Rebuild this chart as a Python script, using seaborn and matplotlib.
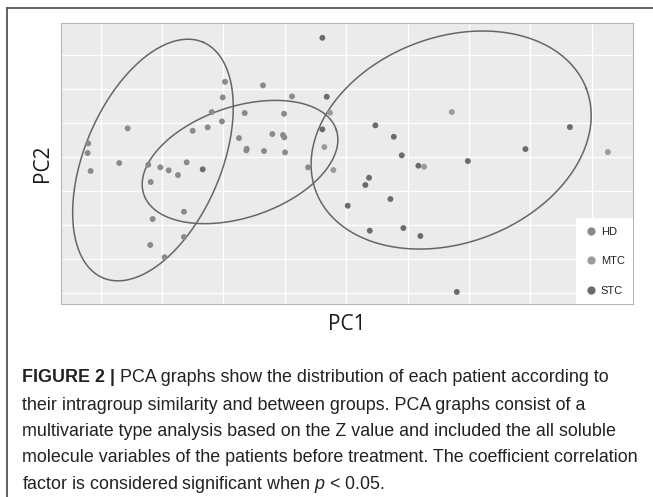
import numpy as np
import pandas as pd
import matplotlib.pyplot as plt
import seaborn as sns
from matplotlib.lines import Line2D

# points
hd_x = [-1.975, -2.012, -1.356, -0.883, -2.191, -1.654, -1.013, -2.024, -3.560, -2.501,
        -2.257, -1.747, -1.204, -1.030, -1.009, -4.202, -4.212, -4.163, -3.697, -3.224,
        -3.029, -2.892, -2.741, -2.599, -1.621, -1.628, -1.339, -0.997, -0.622, -3.185,
        -2.643, -3.153, -2.643, -3.192, -2.957]
hd_y = [2.217, 1.758, 2.111, 1.787, 1.325, 1.296, 1.275, 1.051, 0.845, 0.774,
        0.875, 0.559, 0.677, 0.648, 0.580, 0.403, 0.118, -0.412, -0.177, -0.227,
        -0.303, -0.392, -0.530, -0.156, 0.244, 0.197, 0.177, 0.138, -0.303, -0.736,
        -1.611, -1.826, -2.356, -2.591, -2.953]
mtc_x = [-0.357, -0.264, -0.210, 1.719, 4.261, 1.268]
mtc_y = [0.294, 1.304, -0.383, 1.325, 0.147, -0.286]
stc_x = [-0.389, -0.318, -0.389, -2.338, 0.474, 0.774, 3.642, 2.918, 1.980, 0.904,
         1.175, 0.371, 0.311, 0.719, 0.024, 0.383, 0.930, 1.207, 1.800]
stc_y = [3.513, 1.776, 0.816, -0.362, 0.933, 0.598, 0.883, 0.236, -0.118, 0.050,
         -0.256, -0.610, -0.824, -1.237, -1.434, -2.170, -2.091, -2.326, -3.975]

groups = ["HD", "MTC", "STC"]
colors = ["#8a8a8a", "#9b9b9b", "#6b6b6b"]

# ellipses: centre and two half-axis vectors
ell_cx = [-3.148, -1.730, 1.708]
ell_cy = [-0.088, -0.147, 0.501]
ell_ax = [0.815, 1.567, 2.201]
ell_ay = [3.472, 0.953, 1.519]
ell_bx = [-1.023, -0.288, -0.598]
ell_by = [0.784, 1.546, 2.830]

caption = [
    "PCA graphs show the distribution of each patient according to",
    "their intragroup similarity and between groups. PCA graphs consist of a",
    "multivariate type analysis based on the Z value and included the all soluble",
    "molecule variables of the patients before treatment. The coefficient correlation",
    "factor is considered significant when $p$ < 0.05.",
]

df = pd.DataFrame({
    "PC1": hd_x + mtc_x + stc_x,
    "PC2": hd_y + mtc_y + stc_y,
    "group": ["HD"] * len(hd_x) + ["MTC"] * len(mtc_x) + ["STC"] * len(stc_x),
})

plt.rcParams["mathtext.fontset"] = "custom"
plt.rcParams["mathtext.it"] = "Liberation Sans:italic"
plt.rcParams["mathtext.rm"] = "Liberation Sans"

fig = plt.figure(figsize=(6.53, 4.97), dpi=100)
ax = fig.add_axes([0.093, 0.3883, 0.8764, 0.5648])
ax.set_facecolor("#ebebeb")
sns.scatterplot(data=df, x="PC1", y="PC2", hue="group", hue_order=groups,
                palette=dict(zip(groups, colors)), s=18, linewidth=0, ax=ax, zorder=3)

t = np.linspace(0, 2 * np.pi, 300)
for i in range(3):
    ex = ell_cx[i] + ell_ax[i] * np.cos(t) + ell_bx[i] * np.sin(t)
    ey = ell_cy[i] + ell_ay[i] * np.cos(t) + ell_by[i] * np.sin(t)
    ax.plot(ex, ey, color="#666666", lw=1.1, zorder=2)

ax.set_xlim(-4.65, 4.67)
ax.set_ylim(-4.33, 3.94)
ax.set_xticks(range(-4, 5))
ax.set_yticks(range(-4, 4))
ax.tick_params(length=0, labelbottom=False, labelleft=False)
ax.grid(True, color="white", lw=1.0, zorder=0)
ax.set_axisbelow(True)
for sp in ax.spines.values():
    sp.set_color("#bdb5ad")
    sp.set_linewidth(0.8)
ax.set_xlabel("")
ax.set_ylabel("")

handles, labels = ax.get_legend_handles_labels()
leg = ax.legend(handles, labels, loc="lower right", frameon=True, facecolor="white",
                edgecolor="none", framealpha=1, fancybox=False,
                prop={"family": "Liberation Sans", "size": 8},
                borderaxespad=0, labelspacing=1.75, handletextpad=0.25, markerscale=1.4,
                borderpad=0.75, handlelength=1.2)
for txt in leg.get_texts():
    txt.set_color("#222222")

fig.text(347 / 653, 1 - 325 / 497, "PC1", fontsize=15, family="Open Sans",
         ha="center", va="center", color="#1a1a1a")
fig.text(43 / 653, 1 - 163 / 497, "PC2", fontsize=15, family="Open Sans",
         ha="center", va="center", rotation=90, color="#1a1a1a")

# frame lines round the figure
fig.add_artist(Line2D([7.3 / 653, 7.3 / 653], [0, 1 - 8 / 497], color="#555555", lw=1.3))
fig.add_artist(Line2D([7.3 / 653, 1], [1 - 8 / 497, 1 - 8 / 497], color="#555555", lw=1.3))

# caption
line_y = [378, 405, 431.5, 458, 484.5]
bold = fig.text(22 / 653, 1 - line_y[0] / 497, "FIGURE 2 | ", fontsize=12.9, weight="bold",
                family="Liberation Sans", va="center", color="#222222")
fig.canvas.draw()
bb = bold.get_window_extent(renderer=fig.canvas.get_renderer())
fig.text(bb.x1 / 653, 1 - line_y[0] / 497, caption[0], fontsize=12.9,
         family="Liberation Sans", va="center", color="#222222")
for i in range(1, 5):
    fig.text(22 / 653, 1 - line_y[i] / 497, caption[i], fontsize=12.9,
             family="Liberation Sans", va="center", color="#222222")

fig.savefig("out.png", dpi=100)
